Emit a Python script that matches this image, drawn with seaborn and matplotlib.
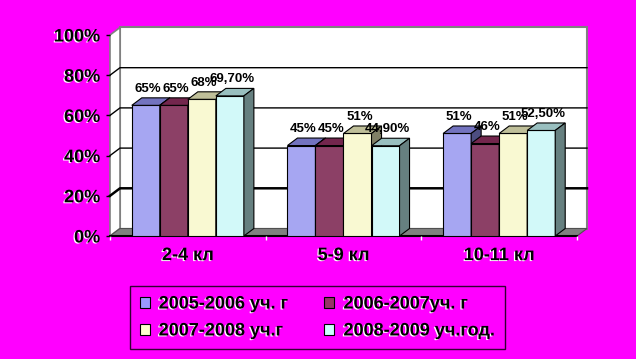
import matplotlib
matplotlib.use("Agg")
import pandas as pd
import matplotlib.pyplot as plt
import matplotlib.patheffects as pe
import matplotlib.colors as mcolors
from matplotlib.patches import Polygon, Patch
import seaborn as sns

# Данные
classes = ["2-4 кл", "5-9 кл", "10-11 кл"]
years = ["2005-2006 уч. г", "2006-2007уч. г", "2007-2008 уч.г", "2008-2009 уч.год."]
v_0506 = [65, 45, 51]
v_0607 = [65, 45, 46]
v_0708 = [68, 51, 51]
v_0809 = [69.70, 44.90, 52.50]
colors = ["#9999FF", "#993366", "#FFFFCC", "#CCFFFF"]
yticks = [0, 20, 40, 60, 80, 100]

series = [v_0506, v_0607, v_0708, v_0809]
df = pd.DataFrame([
    {"klass": c, "god": y, "val": vals[i]}
    for y, vals in zip(years, series)
    for i, c in enumerate(classes)
])

plt.rcParams["font.family"] = ["Liberation Sans", "DejaVu Sans"]
plt.rcParams["font.weight"] = "bold"

BG = "#FF00FF"
W, H = 636, 359
fig = plt.figure(figsize=(W / 100, H / 100), dpi=100, facecolor=BG)
ax = fig.add_axes([110 / W, 1 - 236 / H, (577 - 110) / W, (236 - 35) / H])
ax.patch.set_visible(False)

sns.barplot(data=df, x="klass", y="val", hue="god", palette=colors,
            width=0.72, errorbar=None, edgecolor="black", linewidth=0.8,
            legend=False, ax=ax)

ax.set_xlim(-0.5, 2.5)
ax.set_ylim(0, 100)

# глубина 3D в единицах данных (~10 px вправо, ~7.5 px вверх)
dx = 10 / (ax.bbox.width / 3)
dy = 7.5 / (ax.bbox.height / 100)
x0, x1 = ax.get_xlim()

def shade(c, k):
    r, g, b = mcolors.to_rgb(c)
    return (r * k, g * k, b * k)

shadow = [pe.withSimplePatchShadow(offset=(-0.9, -0.7), shadow_rgbFace="white", alpha=1.0)]

# стены и пол
ax.add_patch(Polygon([(x0 + dx, dy), (x1 + dx, dy), (x1 + dx, 100 + dy), (x0 + dx, 100 + dy)],
                     closed=True, facecolor="white", edgecolor="#808080", lw=1.5, zorder=0, clip_on=False))
ax.add_patch(Polygon([(x0, 0), (x0 + dx, dy), (x0 + dx, 100 + dy), (x0, 100)],
                     closed=True, facecolor="white", edgecolor="#808080", lw=1.2, zorder=0.5, clip_on=False))
ax.add_patch(Polygon([(x0, 0), (x1, 0), (x1 + dx, dy), (x0 + dx, dy)],
                     closed=True, facecolor="#808080", edgecolor="#505050", lw=0.8, zorder=0.8, clip_on=False))
for t in yticks[1:-1]:
    ax.plot([x0, x0 + dx, x1 + dx], [t, t + dy, t + dy], color="black",
            lw=1.8 if t == 20 else 1, zorder=0.6, clip_on=False)

# 3D грани столбиков + подписи
for k, cont in enumerate(ax.containers):
    col = colors[k]
    for j, bar in enumerate(cont):
        bx, bw, bh = bar.get_x(), bar.get_width(), bar.get_height()
        z = 2 + k * 3
        bar.set_zorder(z)
        ax.add_patch(Polygon([(bx, bh), (bx + bw, bh), (bx + bw + dx, bh + dy), (bx + dx, bh + dy)],
                             closed=True, facecolor=shade(col, 0.75), edgecolor="black", lw=0.8,
                             zorder=z + 1, clip_on=False))
        ax.add_patch(Polygon([(bx + bw, 0), (bx + bw + dx, dy), (bx + bw + dx, bh + dy), (bx + bw, bh)],
                             closed=True, facecolor=shade(col, 0.5), edgecolor="black", lw=0.8,
                             zorder=z + 2, clip_on=False))
        v = series[k][j]
        lab = f"{int(v)}%" if v == int(v) else f"{v:.2f}%".replace(".", ",")
        ax.text(bx + bw / 2 + dx * 0.2, bh + dy + 1.5, lab, ha="center", va="bottom",
                fontsize=9.5, fontweight="bold", color="black", zorder=20)

# оси
for s in ["top", "right", "left"]:
    ax.spines[s].set_visible(False)
ax.spines["bottom"].set_color("black")
ax.spines["bottom"].set_linewidth(1.5)
ax.spines["bottom"].set_zorder(1)
ax.set_yticks(yticks)
ax.set_yticklabels([f"{t}%" for t in yticks])
ax.tick_params(axis="y", length=3, width=1, color="black", pad=4, labelsize=13)
ax.tick_params(axis="x", which="major", length=0, pad=8, labelsize=13)
ax.set_xticks([-0.5, 0.5, 1.5, 2.5], minor=True)
ax.tick_params(axis="x", which="minor", length=3, width=1, color="white")
ax.set_xlabel("")
ax.set_ylabel("")
for lbl in ax.get_xticklabels() + ax.get_yticklabels():
    lbl.set_fontweight("bold")
    lbl.set_path_effects(shadow)

# легенда (по строкам, как в оригинале)
order = [0, 2, 1, 3]
handles = [Patch(facecolor=colors[i], edgecolor="black", lw=0.8) for i in order]
labels = [years[i] for i in order]
leg = fig.legend(handles, labels, loc="center", bbox_to_anchor=(317.5 / W, 1 - 317.5 / H),
                 ncol=2, frameon=True, fancybox=False, facecolor=BG, edgecolor="black",
                 fontsize=13, handlelength=0.55, handleheight=0.55, handletextpad=0.5,
                 columnspacing=2.0, labelspacing=0.55, borderpad=0.55)
leg.get_frame().set_linewidth(1)
for t in leg.get_texts():
    t.set_fontweight("bold")
    t.set_path_effects(shadow)

fig.savefig("out.png", dpi=100, facecolor=BG)
